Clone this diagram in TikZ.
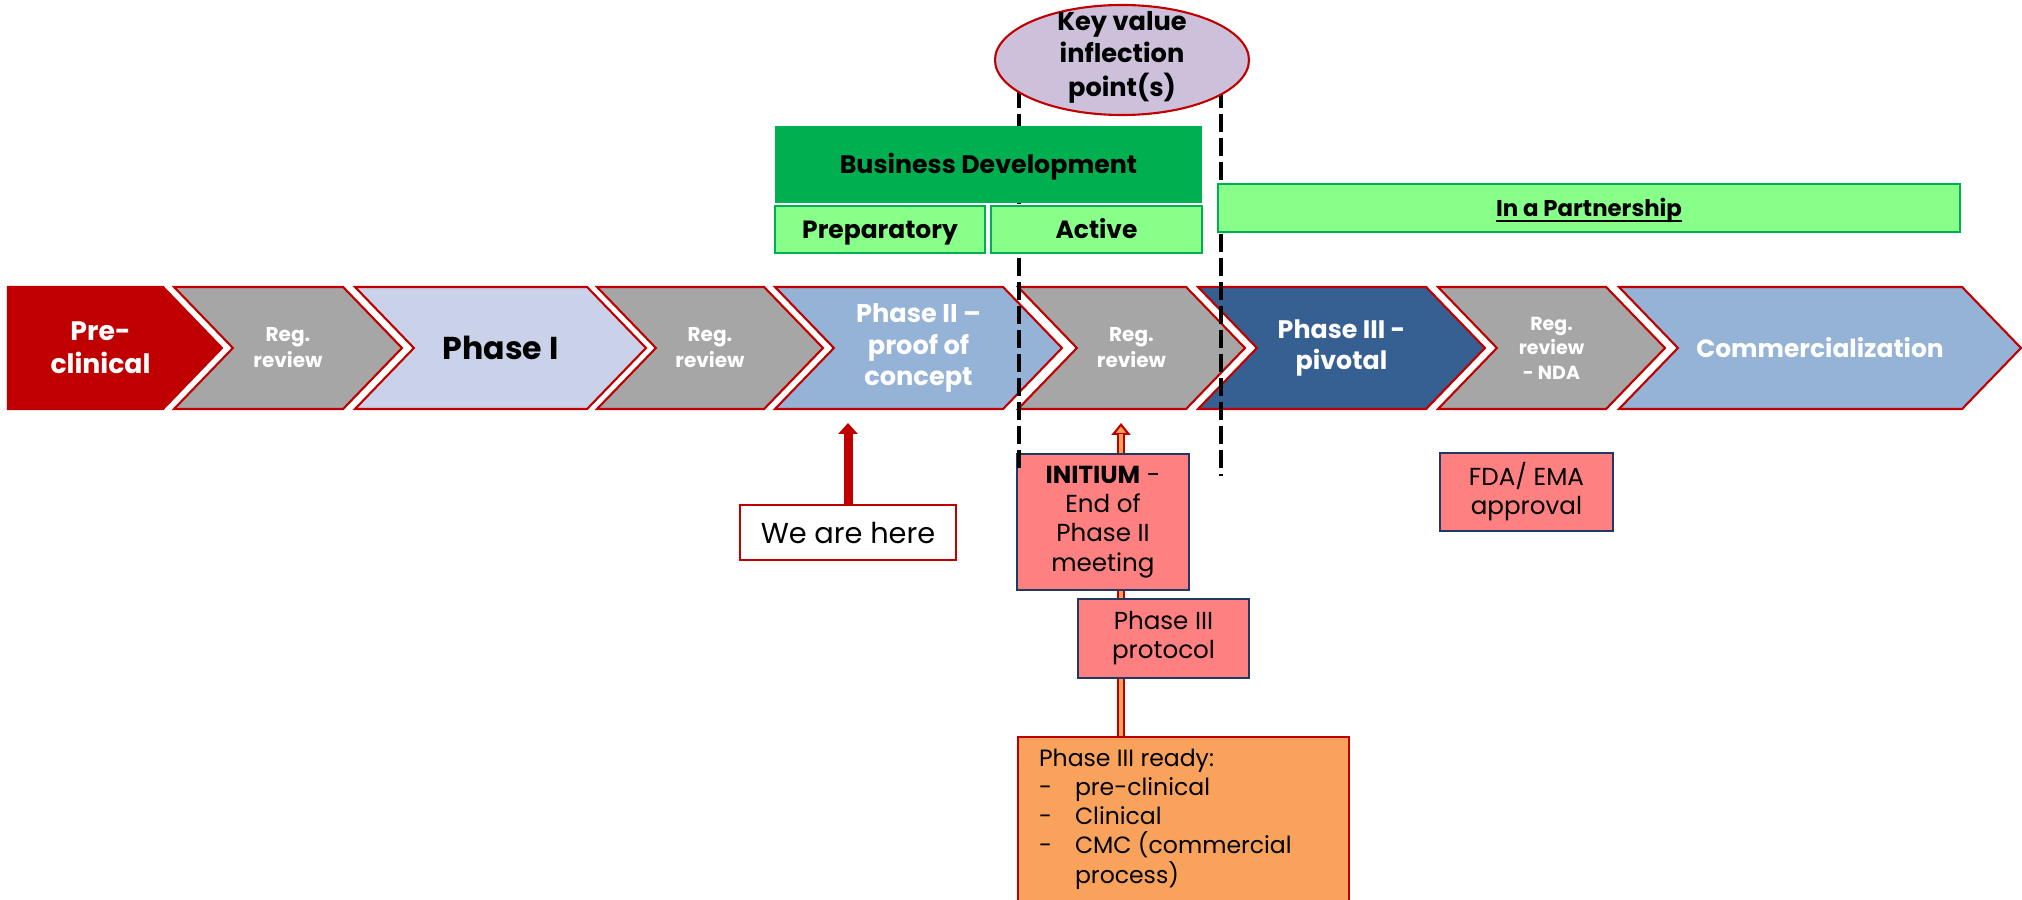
\documentclass[tikz,border=0pt]{standalone}
\usepackage{fontspec}
\setmainfont{Poppins}
\usepackage{xcolor}
\usepackage{tikz}
\usetikzlibrary{positioning,arrows.meta,shapes.geometric,shapes.symbols}

\definecolor{chevred}{HTML}{C00000}
\definecolor{reggray}{HTML}{A6A6A6}
\definecolor{phaseone}{HTML}{C9D2E8}
\definecolor{phasetwo}{HTML}{95B3D7}
\definecolor{phasethree}{HTML}{366092}
\definecolor{keyfill}{HTML}{CCC0DA}
\definecolor{bdgreen}{HTML}{00B050}
\definecolor{lightgreen}{HTML}{88FF88}
\definecolor{salmon}{HTML}{FF8080}
\definecolor{navy}{HTML}{1F3864}
\definecolor{orangefill}{HTML}{F9A25B}

\begin{document}
\begin{tikzpicture}[
  chev/.style={signal, signal to=east, signal pointer angle=92, draw=chevred, line width=0.6pt,
               minimum height=1.22cm, inner sep=0pt, align=center, text=white},
  notched/.style={chev, signal from=west},
  regbox/.style={notched, fill=reggray, font=\bfseries\fontsize{5.7}{7.4}\selectfont},
  greenbox/.style={rectangle, draw=bdgreen, line width=0.6pt, fill=lightgreen, inner sep=0pt,
                   text height=5pt, text depth=0pt, font=\bfseries\fontsize{7.1}{8.5}\selectfont},
  milestone/.style={rectangle, draw=navy, line width=0.6pt, fill=salmon, inner sep=0pt,
                    align=center, font=\fontsize{7}{8.3}\selectfont},
  marker/.style={black, line width=1.1pt, dash pattern=on 0.18cm off 0.06cm}
]
\useasboundingbox (0,0) rectangle (20.22,9);
\clip (0,0) rectangle (20.22,9);

% Development chevrons
\node[chev, fill=chevred, minimum width=2.14cm, font=\bfseries\fontsize{7.6}{9.5}\selectfont] (pre) at (0.855,5.52) {\hspace*{0.3cm}Pre-\\\hspace*{0.3cm}clinical};
\node[regbox, minimum width=2.28cm] (reg1) at (2.88,5.52) {Reg.\\review};
\node[notched, fill=phaseone, minimum width=2.91cm, text=black, font=\bfseries\fontsize{9}{11}\selectfont] (ph1) at (5.005,5.52) {Phase I};
\node[regbox, minimum width=2.26cm] (reg2) at (7.10,5.52) {Reg.\\review};
\node[notched, fill=phasetwo, minimum width=2.87cm, font=\bfseries\fontsize{7.3}{9}\selectfont] (ph2) at (9.185,5.52) {Phase II –\\proof of\\concept};
\node[regbox, minimum width=2.27cm] (reg3) at (11.315,5.52) {Reg.\\review};
\node[notched, fill=phasethree, minimum width=2.87cm, font=\bfseries\fontsize{7.2}{8.7}\selectfont] (ph3) at (13.415,5.52) {Phase III -\\pivotal};
\node[regbox, minimum width=2.27cm, font=\bfseries\fontsize{5.4}{7}\selectfont] (nda) at (15.515,5.52) {Reg.\\review\\- NDA};
\node[notched, fill=phasetwo, minimum width=4.02cm, font=\bfseries\fontsize{7.1}{9}\selectfont] (comm) at (18.20,5.52) {Commercialization};

% We are here
\node[rectangle, draw=chevred, line width=0.8pt, fill=white, minimum width=2.16cm, minimum height=0.55cm,
      inner sep=0pt, font=\fontsize{8.2}{10}\selectfont] (here) at (8.48,3.675) {We are here};
\coordinate (here tip) at (8.48,4.77);
\draw[chevred, line width=0.09cm, -{Triangle[width=0.19cm,length=0.11cm]}] (here) -- (here tip);

% Phase III readiness
\node[rectangle, draw=chevred, line width=0.6pt, fill=orangefill, anchor=north west, inner xsep=0.21cm, inner ysep=0.12cm] (ready) at (10.17,1.64)
  {\parbox[t][2.2cm][t]{2.89cm}{\fontsize{6.7}{8.3}\selectfont
   Phase III ready:\\
   \makebox[0.36cm][l]{-}pre-clinical\\
   \makebox[0.36cm][l]{-}Clinical\\
   \makebox[0.36cm][l]{-}CMC (commercial\\
   \hspace*{0.36cm}process)}};
\coordinate (ready tip) at (11.21,4.77);
\draw[chevred, line width=0.08cm, -{Triangle[width=0.19cm,length=0.12cm,fill=orangefill,line width=0.6pt]}] (ready tip |- ready.north) -- (ready tip);
\draw[orangefill, line width=0.045cm, shorten >=0.115cm] (ready tip |- ready.north) -- (ready tip);

% Milestones
\node[milestone, minimum width=1.72cm, minimum height=1.36cm] (initium) at (11.03,3.78) {\textbf{INITIUM} -\\End of\\Phase II\\meeting};
\node[milestone, minimum width=1.71cm, minimum height=0.79cm] (protocol) at (11.635,2.615) {Phase III\\protocol};
\node[milestone, minimum width=1.73cm, minimum height=0.78cm] (approval) at (15.265,4.08) {FDA/ EMA\\approval};

% Inflection markers
\coordinate (vl top) at (10.19,8.1);
\coordinate (vl bot) at (10.19,4.28);
\coordinate (vr top) at (12.21,8.1);
\coordinate (vr bot) at (12.21,4.24);
\draw[marker] (vl top) -- (vl bot);
\draw[marker] (vr top) -- (vr bot);

% Key value
\node[ellipse, draw=chevred, line width=0.6pt, fill=keyfill, minimum width=2.54cm, minimum height=1.1cm,
      inner sep=0pt, font=\bfseries\fontsize{7.3}{9.2}\selectfont] (key) at (11.22,8.40)
  {\smash{\raisebox{-0.03cm}{\begin{tabular}{@{}c@{}}Key value\\inflection\\point(s)\end{tabular}}}};

% Business development
\node[rectangle, fill=bdgreen, minimum width=4.27cm, minimum height=0.77cm, inner sep=0pt,
      text height=5pt, text depth=0pt, font=\bfseries\fontsize{7.2}{8.6}\selectfont] (bd) at (9.885,7.355) {Business Development};
\node[greenbox, minimum width=2.10cm, minimum height=0.47cm] (prep) at (8.80,6.705) {Preparatory};
\node[greenbox, minimum width=2.11cm, minimum height=0.47cm] (active) at (10.965,6.705) {Active};
\node[greenbox, minimum width=7.42cm, minimum height=0.48cm, text height=4.6pt, font=\bfseries\fontsize{6.5}{8}\selectfont] (partner) at (15.89,6.92) {\underline{\smash{In a Partnership}}};

\end{tikzpicture}
\end{document}
